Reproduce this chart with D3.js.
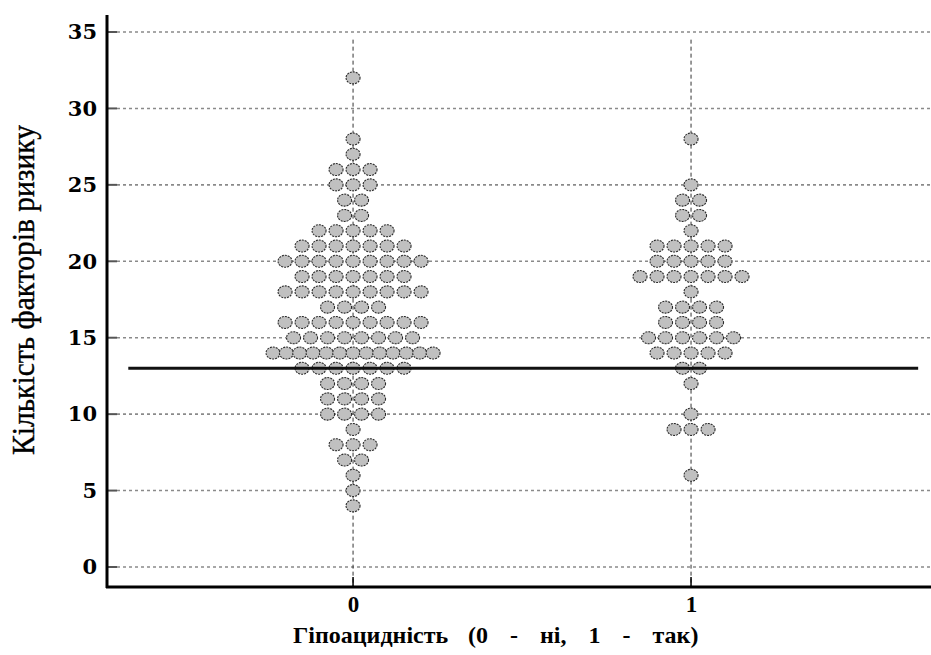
<!DOCTYPE html>
<html>
<head>
<meta charset="utf-8">
<script src="https://cdn.jsdelivr.net/npm/d3@7"></script>
<style>
  body { margin: 0; background: #fff; }
  svg { display: block; }
  text { font-family: "Liberation Serif", "Times New Roman", serif; }
</style>
</head>
<body>
<div id="chart"></div>
<script>
// risk factor count values and number of patients at each value
var values0 = [32, 28, 27, 26, 25, 24, 23, 22, 21, 20, 19, 18, 17, 16, 15, 14, 13, 12, 11, 10, 9, 8, 7, 6, 5, 4];
var counts0 = [1, 1, 1, 3, 3, 2, 2, 5, 7, 9, 7, 9, 4, 9, 8, 13, 7, 4, 4, 4, 1, 3, 2, 1, 1, 1];
var values1 = [28, 25, 24, 23, 22, 21, 20, 19, 18, 17, 16, 15, 14, 13, 12, 10, 9, 6];
var counts1 = [1, 1, 2, 2, 1, 5, 5, 7, 1, 4, 4, 6, 5, 2, 1, 1, 3, 1];
var groups = [0, 1];
var xTickLabels = ["0", "1"];
var yTicks = [0, 5, 10, 15, 20, 25, 30, 35];
var cutoff = 13;

var width = 931, height = 655;

var svg = d3.select("#chart")
  .append("svg")
  .attr("width", width)
  .attr("height", height);

// scales
var x = d3.scaleLinear().domain([-0.728, 1.71]).range([107, 931]);
var y = d3.scaleLinear().domain([0, 35]).range([567, 32]);

// horizontal dotted grid
svg.append("g")
  .selectAll("line")
  .data(yTicks)
  .enter()
  .append("line")
  .attr("x1", 117).attr("x2", width)
  .attr("y1", function(d) { return y(d); })
  .attr("y2", function(d) { return y(d); })
  .style("stroke", "#8a8a8a")
  .style("stroke-width", 1.6)
  .style("stroke-dasharray", "3,3");

// short y tick marks
svg.append("g")
  .selectAll("line")
  .data(yTicks)
  .enter()
  .append("line")
  .attr("x1", 107).attr("x2", 117)
  .attr("y1", function(d) { return y(d); })
  .attr("y2", function(d) { return y(d); })
  .style("stroke", "#555")
  .style("stroke-width", 2);

// vertical dashed grid at group positions
svg.append("g")
  .selectAll("line")
  .data(groups)
  .enter()
  .append("line")
  .attr("x1", function(d) { return x(d); })
  .attr("x2", function(d) { return x(d); })
  .attr("y1", y(34.5)).attr("y2", 587)
  .style("stroke", "#333")
  .style("stroke-width", 1)
  .style("stroke-dasharray", "4,3");

// x tick marks
svg.append("g")
  .selectAll("line")
  .data(groups)
  .enter()
  .append("line")
  .attr("x1", function(d) { return x(d); })
  .attr("x2", function(d) { return x(d); })
  .attr("y1", 587).attr("y2", 577)
  .style("stroke", "#000")
  .style("stroke-width", 1.5);

// build dot list
function makeDots(group, vals, cnts) {
  var dots = [];
  vals.forEach(function(v, k) {
    var n = cnts[k];
    var step = n > 1 ? Math.min(17, 160 / (n - 1)) : 0;
    for (var i = 0; i < n; i++) {
      dots.push({ group: group, value: v, offset: (i - (n - 1) / 2) * step });
    }
  });
  return dots;
}
var dots = makeDots(0, values0, counts0).concat(makeDots(1, values1, counts1));

svg.append("g")
  .selectAll("ellipse")
  .data(dots)
  .enter()
  .append("ellipse")
  .attr("cx", function(d) { return x(d.group) + d.offset; })
  .attr("cy", function(d) { return y(d.value); })
  .attr("rx", 7)
  .attr("ry", 6)
  .style("fill", "#c0c0c0")
  .style("stroke", "#2a2a2a")
  .style("stroke-width", 1.1)
  .style("stroke-dasharray", "2,1");

// cutoff line
svg.append("line")
  .attr("x1", x(-0.665)).attr("x2", x(1.672))
  .attr("y1", y(cutoff)).attr("y2", y(cutoff))
  .style("stroke", "#111")
  .style("stroke-width", 3);

// axes lines
svg.append("line")
  .attr("x1", 107).attr("x2", 107)
  .attr("y1", 15).attr("y2", 588)
  .style("stroke", "#000").style("stroke-width", 3);
svg.append("line")
  .attr("x1", 106).attr("x2", width)
  .attr("y1", 587).attr("y2", 587)
  .style("stroke", "#000").style("stroke-width", 3);

// y tick labels
var yAxis = svg.append("g")
  .attr("transform", "translate(107,0)")
  .call(d3.axisLeft(y).tickValues(yTicks).tickSize(0).tickPadding(10));
yAxis.select(".domain").remove();
yAxis.selectAll("text")
  .style("font-family", "'DejaVu Serif', serif")
  .style("font-size", "21px")
  .style("font-weight", "bold")
  .style("fill", "#000");

// x tick labels
var xAxis = svg.append("g")
  .attr("transform", "translate(0,587)")
  .call(d3.axisBottom(x).tickValues(groups).tickFormat(function(d, i) { return xTickLabels[i]; })
    .tickSize(0).tickPadding(9));
xAxis.select(".domain").remove();
xAxis.selectAll("text")
  .style("font-family", "'Liberation Serif', serif")
  .style("font-size", "23px")
  .style("font-weight", "bold")
  .style("fill", "#000");

// x axis title, two parts
svg.append("text")
  .attr("x", 293).attr("y", 643)
  .style("font-size", "24px")
  .style("font-weight", "bold")
  .text("Гіпоацидність");
svg.append("text")
  .attr("x", 468).attr("y", 643)
  .style("font-size", "24px")
  .style("font-weight", "bold")
  .style("white-space", "pre")
  .style("word-spacing", "16px")
  .text("(0 - ні, 1 - так)");

svg.append("text")
  .attr("transform", "translate(34,290) rotate(-90)")
  .attr("text-anchor", "middle")
  .style("font-size", "32px")
  .style("stroke", "#000")
  .style("stroke-width", 0.4)
  .attr("textLength", 330)
  .attr("lengthAdjust", "spacingAndGlyphs")
  .text("Кількість факторів ризику");
</script>
</body>
</html>
